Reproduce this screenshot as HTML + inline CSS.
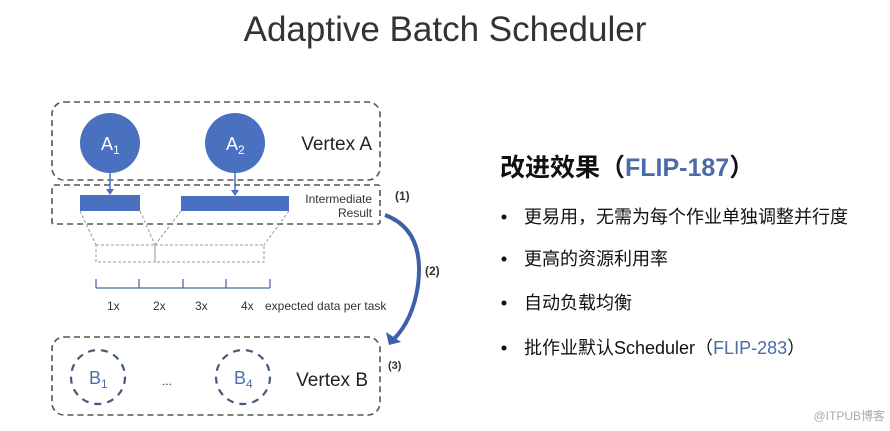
<!DOCTYPE html>
<html><head><meta charset="utf-8"><style>
body{margin:0;background:#fff;}
svg{display:block}
</style></head><body>
<svg width="890" height="431" viewBox="0 0 890 431" xmlns="http://www.w3.org/2000/svg" font-family="Liberation Sans, Noto Sans CJK SC, sans-serif">
<defs><marker id="ah" markerWidth="6" markerHeight="6" refX="3" refY="5" orient="auto"><path d="M0,0 L6,0 L3,6z" fill="#4a6fbd"/></marker></defs>
<text x="445" y="41" text-anchor="middle" font-size="35" fill="#333">Adaptive Batch Scheduler</text>
<g fill="none" stroke="#555" stroke-width="1.6" stroke-dasharray="6,4">
<rect x="52" y="102" width="328" height="78" rx="12"/>
<rect x="52" y="185" width="328" height="39" rx="2"/>
<rect x="52" y="337" width="328" height="78" rx="12"/>
</g>
<circle cx="110" cy="143" r="30" fill="#4a70c0"/>
<circle cx="235" cy="143" r="30" fill="#4a70c0"/>
<text x="101" y="150" font-size="18" fill="#fff">A<tspan font-size="12" dy="4">1</tspan></text>
<text x="226" y="150" font-size="18" fill="#fff">A<tspan font-size="12" dy="4">2</tspan></text>
<line x1="110" y1="173" x2="110" y2="194" stroke="#4a70c0" stroke-width="1.5"/>
<line x1="235" y1="173" x2="235" y2="195" stroke="#4a70c0" stroke-width="1.5"/>
<path d="M106,189 L110,195 L114,189z M231,190 L235,196 L239,190z" fill="#4a70c0"/>
<rect x="80" y="195" width="60" height="16" fill="#4a70c0"/>
<rect x="181" y="196" width="108" height="15" fill="#4a70c0"/>
<text x="372" y="203" text-anchor="end" font-size="12" fill="#333">Intermediate</text>
<text x="372" y="217" text-anchor="end" font-size="12" fill="#333">Result</text>
<g fill="none" stroke="#999" stroke-width="1" stroke-dasharray="3,2">
<line x1="80" y1="211" x2="96" y2="245"/><line x1="140" y1="211" x2="155" y2="245"/>
<line x1="181" y1="211" x2="155" y2="245"/><line x1="289" y1="211" x2="264" y2="245"/>
<rect x="96" y="245" width="59" height="17"/><rect x="155" y="245" width="109" height="17"/>
</g>
<g stroke="#4a6aa8" stroke-width="1.3">
<line x1="96" y1="288" x2="270" y2="288"/>
<line x1="96" y1="279" x2="96" y2="288"/><line x1="139" y1="279" x2="139" y2="288"/>
<line x1="183" y1="279" x2="183" y2="288"/><line x1="226" y1="279" x2="226" y2="288"/>
<line x1="270" y1="279" x2="270" y2="288"/>
</g>
<g font-size="12" fill="#333"><text x="107" y="310">1x</text><text x="153" y="310">2x</text><text x="195" y="310">3x</text><text x="241" y="310">4x</text><text x="265" y="310">expected data per task</text></g>
<path d="M385,215 Q425,230 418,285 Q413,320 393,340" fill="none" stroke="#3d60a8" stroke-width="4"/>
<path d="M386,332 L401,342 L389,345z" fill="#3d60a8"/>
<text x="395" y="200" font-size="12" font-weight="bold" fill="#333">(1)</text>
<text x="425" y="275" font-size="12" font-weight="bold" fill="#333">(2)</text>
<text x="388" y="369" font-size="11" font-weight="bold" fill="#333">(3)</text>
<text x="372" y="150" text-anchor="end" font-size="19" fill="#222">Vertex A</text>
<text x="368" y="386" text-anchor="end" font-size="19" fill="#222">Vertex B</text>
<g fill="none" stroke="#44597a" stroke-width="2.2" stroke-dasharray="7,6">
<circle cx="98" cy="377" r="27"/><circle cx="243" cy="377" r="27"/></g>
<text x="89" y="384" font-size="18" fill="#4a70b0">B<tspan font-size="12" dy="4">1</tspan></text>
<text x="234" y="384" font-size="18" fill="#4a70b0">B<tspan font-size="12" dy="4">4</tspan></text>
<text x="162" y="385" font-size="12" fill="#333">...</text>
<text x="500" y="176" font-size="25" font-weight="bold" fill="#111">改进效果（<tspan fill="#4a6aa8">FLIP-187</tspan>）</text>
<g font-size="18" fill="#111">
<circle cx="504" cy="217" r="2.5"/><text x="524" y="223">更易用，无需为每个作业单独调整并行度</text>
<circle cx="504" cy="259" r="2.5"/><text x="524" y="265">更高的资源利用率</text>
<circle cx="504" cy="303" r="2.5"/><text x="524" y="309">自动负载均衡</text>
<circle cx="504" cy="348" r="2.5"/><text x="524" y="354">批作业默认Scheduler（<tspan fill="#4a6aa8">FLIP-283</tspan>）</text>
</g>
<text x="885" y="420" text-anchor="end" font-size="12" fill="#aaa">@ITPUB博客</text>
</svg>
</body></html>
